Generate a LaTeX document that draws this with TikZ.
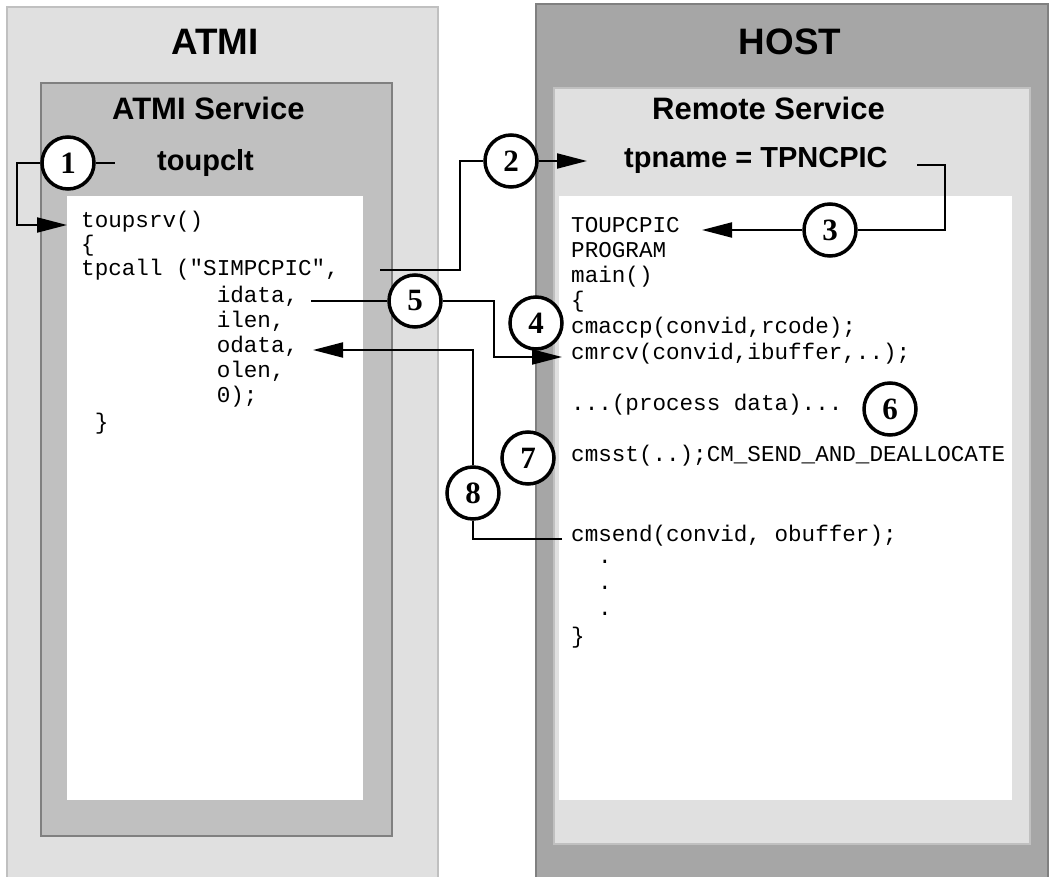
\documentclass[tikz,border=0pt]{standalone}
\usepackage{fontspec}
\setmainfont{Liberation Sans}
\newfontfamily\codefont{Liberation Mono}
\newfontfamily\numfont{Liberation Serif}
\usetikzlibrary{arrows.meta}
\definecolor{lgfill}{HTML}{E0E0E0}
\definecolor{lgline}{HTML}{C0C0C0}
\definecolor{mgfill}{HTML}{C0C0C0}
\definecolor{dgline}{HTML}{808080}
\definecolor{hostfill}{HTML}{A6A6A6}
\tikzset{
  title/.style={anchor=base, inner sep=0, font=\bfseries\fontsize{36.8}{40}\selectfont},
  subtitle/.style={anchor=base west, inner sep=0, font=\bfseries\fontsize{31}{34}\selectfont},
  svcname/.style={anchor=base west, inner sep=0, font=\bfseries\fontsize{29}{32}\selectfont},
  code/.style={anchor=mid west, inner sep=0, font=\codefont\fontsize{22.6}{25}\selectfont},
  num/.style={circle, draw, line width=3.5pt, fill=white, minimum size=52pt, inner sep=0pt,
    font=\numfont\bfseries\fontsize{31}{31}\selectfont},
  conn/.style={line width=2pt},
  arr/.style={conn, -{Triangle[length=30pt,width=15pt]}}
}
\begin{document}
\begin{tikzpicture}[x=1pt,y=-1pt]
\useasboundingbox (0,0) rectangle (1049,877);
% ATMI side
\draw[fill=lgfill, draw=lgline, line width=2pt] (7,7) rectangle (438,885);
\draw[fill=mgfill, draw=dgline, line width=2pt] (41,83) rectangle (392,836);
\fill[white] (67,196) rectangle (363,800);
% HOST side
\draw[fill=hostfill, draw=dgline, line width=2pt] (536,4) rectangle (1048,885);
\draw[fill=lgfill, draw=lgline, line width=2pt] (554,88) rectangle (1030,844);
\fill[white] (559,196) rectangle (1012,800);
% titles
\node[title] (atmi) at (215,55) {ATMI};
\node[title] (host) at (790,55) {HOST};
\node[subtitle] (atmisvc) at (112,120) {ATMI Service};
\node[subtitle] (remsvc) at (652,120) {Remote Service};
\node[svcname] (toupclt) at (157,171) {toupclt};
\node[svcname] (tpname) at (624,168) {tpname = TPNCPIC};
% ATMI code
\node[code] (a1) at (81,225) {toupsrv()};
\node[code] (a2) at (81,249) {\{};
\node[code] (a3) at (81,273) {tpcall ("SIMPCPIC",};
\node[code] (a4) at (216.6,300) {idata,};
\node[code] (a5) at (216.6,325) {ilen,};
\node[code] (a6) at (216.6,350) {odata,};
\node[code] (a7) at (216.6,375) {olen,};
\node[code] (a8) at (216.6,400) {0);};
\node[code] (a9) at (94.6,427) {\}};
% HOST code
\node[code] (h1) at (571,230) {TOUPCPIC};
\node[code] (h2) at (571,255) {PROGRAM};
\node[code] (h3) at (571,280) {main()};
\node[code] (h4) at (571,305) {\{};
\node[code] (h5) at (571,331) {cmaccp(convid,rcode);};
\node[code] (h6) at (571,357) {cmrcv(convid,ibuffer,..);};
\node[code] (h7) at (571,408) {...(process data)...};
\node[code] (h8) at (571,459) {cmsst(..);CM\_SEND\_AND\_DEALLOCATE};
\node[code] (h9) at (571,539) {cmsend(convid, obuffer);};
\node[code] (h10) at (598,561) {.};
\node[code] (h11) at (598,587) {.};
\node[code] (h12) at (598,613) {.};
\node[code] (h13) at (571,641) {\}};
% numbered circles
\node[num] (c1) at (68,163) {1};
\node[num] (c2) at (511,161) {2};
\node[num] (c3) at (830,230) {3};
\node[num] (c4) at (536,323) {4};
\node[num] (c5) at (415,301) {5};
\node[num] (c6) at (890,409) {6};
\node[num] (c7) at (528,458) {7};
\node[num] (c8) at (473,493) {8};
% connector points
\coordinate (e1) at (115,163);
\coordinate (k1) at (17,225);
\coordinate (t1) at (67,225);
\coordinate (s2) at (380,270);
\coordinate (k2) at (460,270);
\coordinate (t2) at (587,161);
\coordinate (s3) at (917,165);
\coordinate (k3) at (945,230);
\coordinate (t3) at (702,230);
\coordinate (s5) at (311,301);
\coordinate (k5) at (494,357);
\coordinate (t5) at (562,357);
\coordinate (s8) at (562,539);
\coordinate (t8) at (313,350);
% connectors
\draw[conn] (c1.east) -- (e1);
\draw[arr] (c1.west) -| (k1) -- (t1);
\draw[conn] (s2) -- (k2) |- (c2.west);
\draw[arr] (c2.east) -- (t2);
\draw[conn] (s3) -| (k3) -- (c3.east);
\draw[arr] (c3.west) -- (t3);
\draw[conn] (s5) -- (c5.west);
\draw[arr] (c5.east) -| (k5) -- (t5);
\draw[conn] (s8) -| (c8.south);
\draw[arr] (c8.north) |- (t8);
\end{tikzpicture}
\end{document}
